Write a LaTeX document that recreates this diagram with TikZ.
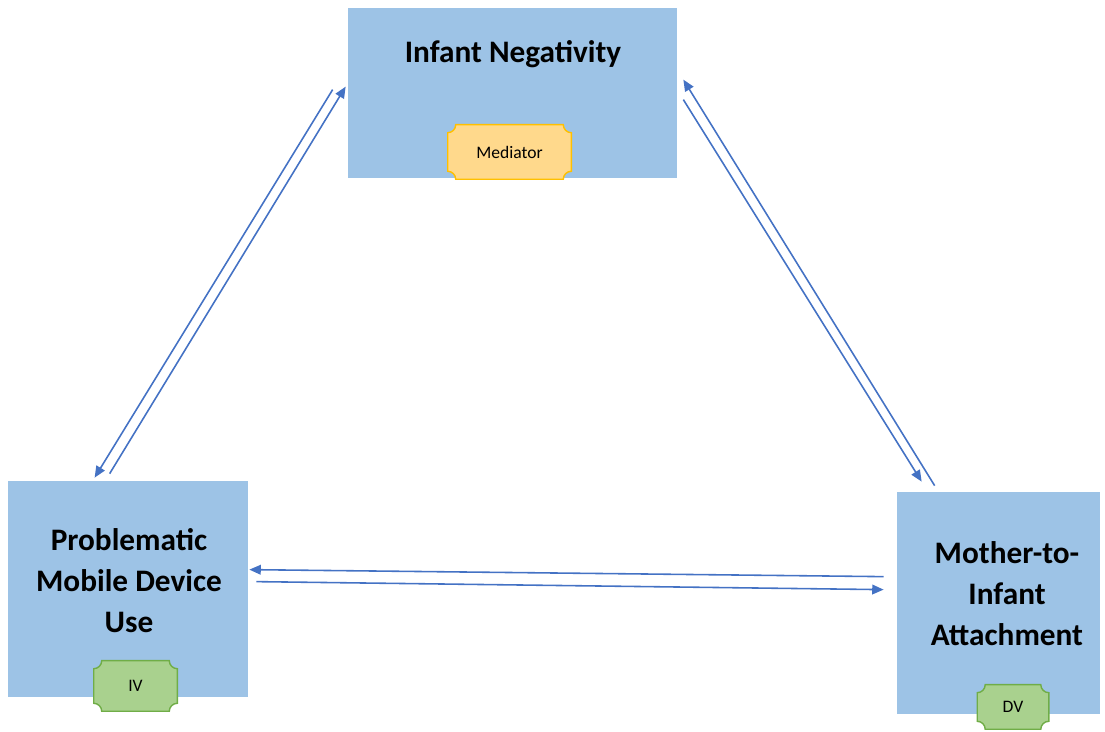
\documentclass[tikz,border=0pt]{standalone}
\usepackage{fontspec}
\setmainfont{Carlito}
\usepackage{tikz}
\usetikzlibrary{arrows.meta}
\definecolor{inf@box}{RGB}{157, 195, 230}
\definecolor{inf@arrow}{RGB}{68, 114, 196}
\definecolor{inf@gold}{RGB}{255, 192, 0}
\definecolor{inf@lightgold}{RGB}{255, 217, 140}
\definecolor{inf@green}{RGB}{112, 173, 71}
\definecolor{inf@lightgreen}{RGB}{169, 209, 142}

% concave-cornered tag outline, drawn inside the node's path picture
\newcommand{\plaque}[2]{%
  \coordinate (plqA) at ([shift={(0.4pt,-0.4pt)}]path picture bounding box.north west);
  \coordinate (plqB) at ([shift={(-0.4pt,0.4pt)}]path picture bounding box.south east);
  \coordinate (plqC) at (plqA -| plqB);
  \coordinate (plqD) at (plqA |- plqB);
  \draw[draw=#1, fill=#2, line width=0.8pt]
    ([xshift=0.16cm]plqA) -- ([xshift=-0.16cm]plqC) arc[start angle=180, end angle=270, radius=0.16cm]
    -- ([yshift=0.16cm]plqB) arc[start angle=90, end angle=180, radius=0.16cm]
    -- ([xshift=0.16cm]plqD) arc[start angle=0, end angle=90, radius=0.16cm]
    -- ([yshift=-0.16cm]plqA) arc[start angle=270, end angle=360, radius=0.16cm] -- cycle;}

\begin{document}
\begin{tikzpicture}[
  box/.style    = {rectangle, fill=inf@box, draw=none, inner sep=0pt},
  title/.style  = {align=center, inner sep=0pt,
                   font=\fontsize{17.8}{23.3}\selectfont\bfseries},
  medtag/.style = {rectangle, inner sep=0pt, font=\fontsize{10}{12}\selectfont,
                   path picture={\plaque{inf@gold}{inf@lightgold}}},
  vartag/.style = {rectangle, inner sep=0pt, font=\fontsize{10}{12}\selectfont,
                   path picture={\plaque{inf@green}{inf@lightgreen}}},
  link/.style   = {-{Triangle[length=6.5pt,width=5.5pt]}, inf@arrow, line width=0.9pt},
]
  \useasboundingbox (0,0) rectangle (22.1,14.64);

  \node[box, minimum width=6.58cm, minimum height=3.4cm]  (neg) at (10.25,12.78) {};
  \node[box, minimum width=4.8cm,  minimum height=4.32cm] (pmu) at (2.56,2.86)   {};
  \node[box, minimum width=4.06cm, minimum height=4.44cm] (mia) at (19.97,2.58)  {};

  \node[title] (negt) at (10.26,13.56) {Infant Negativity};
  \node[title] (pmut) at (2.58,3.02)   {Problematic\\Mobile Device\\Use};
  \node[title] (miat) at (20.14,2.77)  {Mother-to-\\Infant\\Attachment};

  \node[medtag, minimum width=2.5cm,  minimum height=1.12cm] (med) at (10.19,11.6) {Mediator};
  \node[vartag, minimum width=1.7cm,  minimum height=1.04cm] (iv)  at (2.71,0.92)  {IV};
  \node[vartag, minimum width=1.46cm, minimum height=0.92cm] (dv)  at (20.26,0.5)  {DV};

  \draw[link] ([shift={(2.04,0.14)}]pmu.north west)  -- ([shift={(-0.04,-1.58)}]neg.north west);
  \draw[link] ([shift={(-0.30,-1.64)}]neg.north west) -- ([shift={(1.74,0.06)}]pmu.north west);
  \draw[link] ([shift={(0.76,0.12)}]mia.north west)  -- ([shift={(0.12,-1.44)}]neg.north east);
  \draw[link] ([shift={(0.12,-1.84)}]neg.north east) -- ([shift={(0.5,0.2)}]mia.north west);
  \draw[link] ([shift={(-0.26,-1.7)}]mia.north west) -- ([shift={(0.02,-1.78)}]pmu.north east);
  \draw[link] ([shift={(0.16,-2.02)}]pmu.north east) -- ([shift={(-0.26,-1.96)}]mia.north west);
\end{tikzpicture}
\end{document}
